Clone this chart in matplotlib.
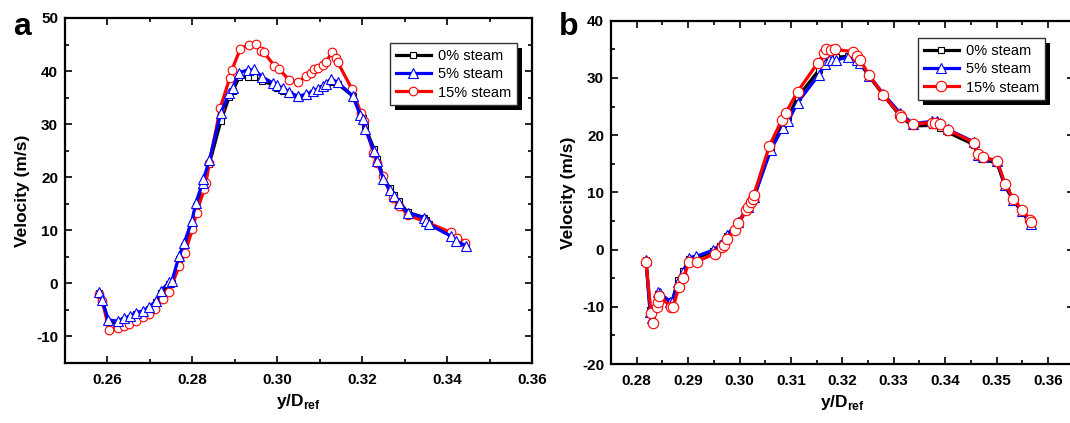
import matplotlib
matplotlib.use("Agg")
import matplotlib.pyplot as plt
from matplotlib.ticker import MultipleLocator
from matplotlib.patches import Rectangle

plt.rcParams['font.family'] = ['Liberation Sans', 'DejaVu Sans']
plt.rcParams['mathtext.fontset'] = 'custom'
plt.rcParams['mathtext.rm'] = 'Liberation Sans'
plt.rcParams['mathtext.bf'] = 'Liberation Sans:bold'
plt.rcParams['axes.unicode_minus'] = False

# ---- panel a data ----
xa_0 = [0.2579, 0.2588, 0.2602, 0.2624, 0.2639, 0.2653, 0.2667, 0.2683, 0.2698, 0.2714,
        0.2726, 0.2745, 0.2752, 0.2769, 0.2781, 0.2799, 0.2808, 0.2824, 0.2826, 0.2840,
        0.2867, 0.2887, 0.2895, 0.2910, 0.2930, 0.2946, 0.2964, 0.2989, 0.3000, 0.3013,
        0.3028, 0.3048, 0.3068, 0.3083, 0.3095, 0.3107, 0.3115, 0.3127, 0.3142, 0.3178,
        0.3195, 0.3201, 0.3207, 0.3228, 0.3236, 0.3250, 0.3265, 0.3276, 0.3286, 0.3307,
        0.3346, 0.3350, 0.3358, 0.3409, 0.3421, 0.3445]
ya_0 = [-1.8, -3.4, -7.3, -7.4, -6.9, -6.5, -5.8, -5.5, -4.8, -3.6,
        -1.8, -0.2, 0.1, 4.6, 7.1, 11.2, 14.5, 18.3, 19.0, 22.5,
        30.6, 35.2, 36.2, 38.8, 38.9, 38.8, 38.2, 37.4, 36.8, 36.3,
        35.6, 35.0, 35.3, 35.9, 36.3, 36.8, 37.2, 38.0, 37.6, 35.3,
        32.0, 31.2, 29.5, 25.3, 23.4, 20.0, 17.9, 16.7, 15.5, 13.4,
        12.4, 11.9, 11.2, 9.0, 8.0, 7.0]

xa_5 = [0.2579, 0.2588, 0.2602, 0.2624, 0.2639, 0.2653, 0.2667, 0.2683, 0.2698, 0.2714,
        0.2726, 0.2745, 0.2752, 0.2769, 0.2781, 0.2799, 0.2808, 0.2824, 0.2826, 0.2840,
        0.2867, 0.2887, 0.2895, 0.2910, 0.2930, 0.2946, 0.2964, 0.2989, 0.3000, 0.3013,
        0.3028, 0.3048, 0.3068, 0.3083, 0.3095, 0.3107, 0.3115, 0.3127, 0.3142, 0.3178,
        0.3195, 0.3201, 0.3207, 0.3228, 0.3236, 0.3250, 0.3265, 0.3276, 0.3286, 0.3307,
        0.3346, 0.3350, 0.3358, 0.3409, 0.3421, 0.3445]
ya_5 = [-1.6, -3.2, -6.9, -7.1, -6.6, -6.2, -5.5, -5.2, -4.5, -3.3,
        -1.4, 0.2, 0.5, 5.2, 7.7, 11.8, 15.1, 19.0, 19.6, 23.2,
        32.1, 35.9, 36.8, 39.7, 40.2, 40.3, 38.9, 37.8, 37.3, 36.8,
        36.0, 35.3, 35.6, 36.2, 36.6, 37.1, 37.5, 38.5, 37.9, 35.3,
        31.8, 30.9, 29.1, 24.9, 23.0, 19.6, 17.6, 16.5, 15.2, 13.3,
        12.4, 11.8, 11.1, 8.9, 8.0, 7.1]

xa_15 = [0.2580, 0.2588, 0.2604, 0.2624, 0.2639, 0.2651, 0.2667, 0.2683, 0.2698, 0.2712,
         0.2730, 0.2745, 0.2769, 0.2783, 0.2800, 0.2810, 0.2828, 0.2832, 0.2840, 0.2866,
         0.2888, 0.2893, 0.2913, 0.2934, 0.2950, 0.2961, 0.2969, 0.2993, 0.3005, 0.3027,
         0.3048, 0.3068, 0.3079, 0.3087, 0.3095, 0.3107, 0.3115, 0.3129, 0.3138, 0.3142,
         0.3176, 0.3197, 0.3205, 0.3226, 0.3236, 0.3248, 0.3272, 0.3287, 0.3309, 0.3350,
         0.3409, 0.3424, 0.3443]
ya_15 = [-2.0, -3.3, -8.8, -8.4, -8.0, -7.7, -7.1, -6.4, -5.8, -4.9,
         -3.0, -1.7, 3.3, 5.8, 10.2, 13.3, 17.8, 19.0, 22.7, 33.1,
         38.7, 40.2, 44.2, 45.0, 45.1, 43.7, 43.5, 41.0, 40.3, 38.4,
         37.9, 39.0, 39.7, 40.3, 40.6, 41.2, 41.8, 43.5, 42.5, 41.7,
         36.6, 32.1, 30.6, 24.6, 22.7, 20.2, 16.1, 14.6, 12.8, 11.6,
         9.6, 8.6, 7.7]

# ---- panel b data ----
xb_0 = [0.2818, 0.2826, 0.2829, 0.2842, 0.2845, 0.2865, 0.2869, 0.2880, 0.2891, 0.2901,
        0.2915, 0.2949, 0.2962, 0.2975, 0.2998, 0.3017, 0.3028, 0.3061, 0.3084, 0.3095,
        0.3113, 0.3154, 0.3167, 0.3174, 0.3180, 0.3188, 0.3212, 0.3228, 0.3235, 0.3252,
        0.3280, 0.3313, 0.3337, 0.3374, 0.3384, 0.3391, 0.3405, 0.3457, 0.3464, 0.3473,
        0.3501, 0.3517, 0.3533, 0.3549, 0.3568]
yb_0 = [-1.9, -10.5, -11.5, -7.8, -7.9, -9.0, -9.1, -5.3, -3.8, -1.6,
        -1.5, -0.3, 0.6, 2.3, 4.6, 7.4, 9.0, 17.8, 22.0, 23.2,
        26.6, 31.3, 33.0, 33.4, 33.5, 33.6, 33.8, 33.0, 32.5, 30.3,
        27.0, 23.3, 21.6, 21.7, 21.7, 21.3, 20.5, 18.3, 16.1, 15.8,
        15.1, 11.0, 8.6, 6.6, 4.3]

xb_5 = [0.2818, 0.2826, 0.2829, 0.2842, 0.2845, 0.2865, 0.2869, 0.2880, 0.2891, 0.2901,
        0.2915, 0.2949, 0.2962, 0.2975, 0.2998, 0.3017, 0.3028, 0.3061, 0.3084, 0.3095,
        0.3113, 0.3154, 0.3167, 0.3174, 0.3180, 0.3188, 0.3212, 0.3228, 0.3235, 0.3252,
        0.3280, 0.3313, 0.3337, 0.3374, 0.3384, 0.3391, 0.3405, 0.3457, 0.3464, 0.3473,
        0.3501, 0.3517, 0.3533, 0.3549, 0.3568]
yb_5 = [-1.8, -10.9, -12.0, -7.4, -7.6, -9.1, -9.2, -5.6, -4.0, -1.4,
        -1.2, -0.1, 0.8, 2.5, 4.9, 7.5, 9.2, 17.4, 21.3, 22.5,
        25.7, 30.5, 32.5, 33.1, 33.2, 33.1, 33.7, 33.2, 32.6, 30.4,
        27.2, 23.8, 22.0, 22.4, 22.5, 22.1, 21.0, 18.8, 16.6, 16.1,
        15.4, 11.2, 8.7, 6.8, 4.4]

xb_15 = [0.2818, 0.2828, 0.2831, 0.2839, 0.2842, 0.2844, 0.2867, 0.2871, 0.2882, 0.2891,
         0.2902, 0.2917, 0.2952, 0.2965, 0.2969, 0.2975, 0.2991, 0.2998, 0.3012, 0.3017,
         0.3023, 0.3026, 0.3028, 0.3058, 0.3082, 0.3090, 0.3113, 0.3152, 0.3165, 0.3169,
         0.3178, 0.3186, 0.3220, 0.3228, 0.3235, 0.3252, 0.3280, 0.3313, 0.3315, 0.3337,
         0.3374, 0.3381, 0.3391, 0.3405, 0.3457, 0.3464, 0.3473, 0.3501, 0.3517, 0.3533,
         0.3549, 0.3566, 0.3568]
yb_15 = [-2.1, -11.1, -12.8, -10.0, -9.1, -8.2, -10.0, -10.0, -6.6, -4.9,
         -2.2, -2.1, -0.7, 0.5, 0.8, 1.8, 3.4, 4.6, 6.9, 7.5,
         8.4, 8.9, 9.6, 18.1, 22.6, 23.9, 27.6, 32.6, 34.3, 35.0,
         34.9, 35.0, 34.6, 33.8, 33.1, 30.5, 27.0, 23.5, 23.2, 21.9,
         22.2, 22.2, 21.9, 20.9, 18.7, 16.7, 16.2, 15.5, 11.4, 8.9,
         7.0, 5.2, 4.8]

labels = ['0% steam', '5% steam', '15% steam']

W, H = 1070, 423
fig = plt.figure(figsize=(W / 100, H / 100), dpi=100)
fig.patch.set_facecolor('white')

ax_a = fig.add_axes([65 / W, 1 - 363 / H, 467 / W, 345 / H])
ax_b = fig.add_axes([611 / W, 1 - 364 / H, 462.6 / W, 343.3 / H])


def draw_series(ax, x, y, color, marker, ms, z):
    h, = ax.plot(x, y, color=color, lw=2.3, marker=marker, ms=ms,
                 mfc='white', mec=color, mew=0.8, zorder=z)
    return h


# panel a: blue drawn over red
h0 = draw_series(ax_a, xa_0, ya_0, 'black', 's', 4.5, 2)
h15 = draw_series(ax_a, xa_15, ya_15, 'red', 'o', 6.2, 3)
h5 = draw_series(ax_a, xa_5, ya_5, 'blue', '^', 6.5, 4)
handles_a = [h0, h5, h15]

# panel b: red on top
g0 = draw_series(ax_b, xb_0, yb_0, 'black', 's', 5, 2)
g5 = draw_series(ax_b, xb_5, yb_5, 'blue', '^', 6.5, 3)
g15 = draw_series(ax_b, xb_15, yb_15, 'red', 'o', 7.5, 4)
handles_b = [g0, g5, g15]

ax_a.set_xlim(0.25, 0.36)
ax_a.set_ylim(-15, 50)
ax_a.xaxis.set_major_locator(MultipleLocator(0.02))
ax_a.xaxis.set_minor_locator(MultipleLocator(0.01))
ax_a.yaxis.set_major_locator(MultipleLocator(10))
ax_a.yaxis.set_minor_locator(MultipleLocator(5))

ax_b.set_xlim(0.275, 0.365)
ax_b.set_ylim(-20, 40)
ax_b.xaxis.set_major_locator(MultipleLocator(0.01))
ax_b.xaxis.set_minor_locator(MultipleLocator(0.005))
ax_b.yaxis.set_major_locator(MultipleLocator(10))
ax_b.yaxis.set_minor_locator(MultipleLocator(5))

for ax in (ax_a, ax_b):
    ax.xaxis.set_major_formatter(plt.FormatStrFormatter('%.2f'))
    for s in ax.spines.values():
        s.set_linewidth(1.6)
    ax.tick_params(which='both', direction='in', top=True, right=True, width=1.2)
    ax.tick_params(which='major', length=5)
    ax.tick_params(which='minor', length=3)
    ax.tick_params(axis='x', pad=7)
    ax.tick_params(axis='y', pad=5)
    for lab in ax.get_xticklabels() + ax.get_yticklabels():
        lab.set_fontsize(11)
        lab.set_fontweight('bold')
    ax.set_ylabel('Velocity (m/s)', fontsize=12.5, fontweight='bold')
    ax.set_xlabel(r'y/D$_{\mathbf{ref}}$', fontsize=12.5, fontweight='bold')
    ax.yaxis.set_label_coords(-0.075, 0.5)
    ax.xaxis.set_label_coords(0.5, -0.085)

legs = []
for ax, hs, pos in ((ax_a, handles_a, (390, 43)), (ax_b, handles_b, (918, 38))):
    leg = ax.legend(hs, labels, loc='upper left',
                    bbox_to_anchor=(pos[0] / W, 1 - pos[1] / H),
                    bbox_transform=fig.transFigure, borderaxespad=0,
                    fontsize=10.5, frameon=True, fancybox=False,
                    handlelength=2.4, handletextpad=0.5, labelspacing=0.3,
                    borderpad=0.4, framealpha=1)
    leg.get_frame().set_edgecolor('#333333')
    leg.get_frame().set_linewidth(1.0)
    leg.set_zorder(6)
    legs.append((ax, leg))

fig.text(13 / W, 1 - 35 / H, 'a', fontsize=23, fontweight='bold', va='baseline')
fig.text(559 / W, 1 - 35 / H, 'b', fontsize=23, fontweight='bold', va='baseline')

# black drop shadow behind each legend
fig.canvas.draw()
for ax, leg in legs:
    bb = leg.get_window_extent()
    r = Rectangle(((bb.x0 + 5) / W, (bb.y0 - 5) / H), bb.width / W, bb.height / H,
                  transform=fig.transFigure, facecolor='black', edgecolor='none',
                  zorder=5.5, clip_on=False)
    ax.add_patch(r)

fig.savefig('out.png', dpi=100)
